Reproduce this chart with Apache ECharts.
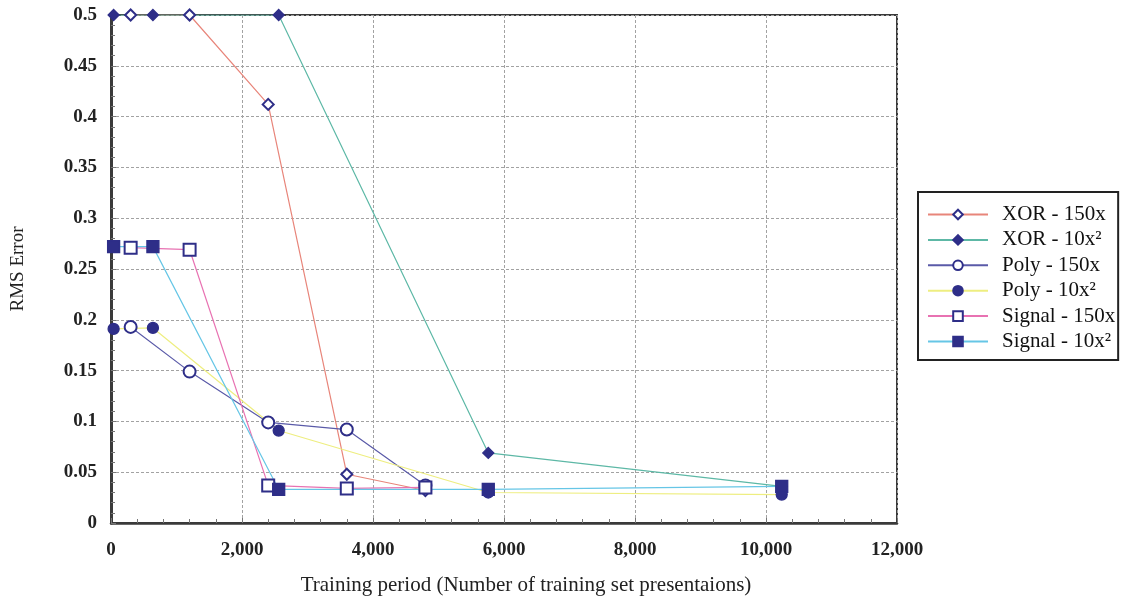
<!DOCTYPE html>
<html>
<head>
<meta charset="utf-8">
<title>RMS Error vs Training period</title>
<script src="https://cdn.jsdelivr.net/npm/echarts@6/dist/echarts.min.js"></script>
<style>
  html, body { margin: 0; padding: 0; background: #ffffff; }
  #chart { width: 1129px; height: 601px; }
</style>
</head>
<body>
<div id="chart"></div>
<script>
// Training presentations: 150 per unit vs 10 per unit squared
const x150 = [300, 1200, 2400, 3600, 4800];
const x10sq = [40, 640, 2560, 5760, 10240];

// RMS error for each problem and schedule
const xor150 = [0.5, 0.5, 0.412, 0.048, 0.032];
const xor10sq = [0.5, 0.5, 0.5, 0.069, 0.036];
const poly150 = [0.193, 0.149, 0.099, 0.092, 0.037];
const poly10sq = [0.191, 0.192, 0.091, 0.030, 0.028];
const signal150 = [0.271, 0.269, 0.037, 0.034, 0.035];
const signal10sq = [0.272, 0.272, 0.033, 0.033, 0.036];

const seriesNames = ['XOR - 150x', 'XOR - 10x\u00b2', 'Poly - 150x', 'Poly - 10x\u00b2', 'Signal - 150x', 'Signal - 10x\u00b2'];

const serif = "'Liberation Serif', 'Times New Roman', serif";
const markerColor = '#2e2e88';

function pairs(xs, ys) {
  return xs.map((x, i) => [x, ys[i]]);
}

function lineSeries(name, xs, ys, lineColor, symbol, size) {
  return {
    name: name,
    type: 'line',
    data: pairs(xs, ys),
    symbol: symbol,
    symbolSize: size,
    showAllSymbol: true,
    lineStyle: { color: lineColor, width: 1.2 },
    itemStyle: { color: markerColor, borderColor: markerColor, borderWidth: 1.3 },
    emphasis: { disabled: true },
    animation: false
  };
}

const chart = echarts.init(document.getElementById('chart'));

chart.setOption({
  backgroundColor: '#ffffff',
  animation: false,
  grid: {
    left: 111, right: 232, top: 15, bottom: 76,
    show: true,
    borderColor: '#3a3a3a',
    borderWidth: 2,
    backgroundColor: 'transparent'
  },
  legend: {
    orient: 'vertical',
    left: 918,
    top: 192,
    padding: [12, 3, 8, 9],
    itemWidth: 60,
    itemHeight: 12,
    itemGap: 4.4,
    borderColor: '#222',
    borderWidth: 2,
    backgroundColor: '#ffffff',
    textStyle: { fontFamily: serif, fontSize: 21, lineHeight: 21, color: '#111', padding: [0, 0, 0, 9] },
    data: seriesNames
  },
  xAxis: {
    type: 'value',
    min: 0,
    max: 12000,
    interval: 2000,
    name: 'Training period (Number of training set presentaions)',
    nameLocation: 'middle',
    nameGap: 52,
    nameTextStyle: { fontFamily: serif, fontSize: 21, color: '#222', padding: [0, 0, 0, 44] },
    axisLine: { show: true, lineStyle: { color: '#3a3a3a', width: 2.5 } },
    axisTick: { show: true, inside: true, length: 5, lineStyle: { color: '#777' } },
    minorTick: { show: true, splitNumber: 5, length: 4, lineStyle: { color: '#777' } },
    axisLabel: {
      fontFamily: serif, fontSize: 19, fontWeight: 'bold', color: '#222', margin: 18,
      formatter: v => v.toLocaleString('en-US')
    },
    splitLine: { show: true, lineStyle: { color: '#a2a2a2', type: [3, 2], width: 1 } }
  },
  yAxis: {
    type: 'value',
    min: 0,
    max: 0.5,
    interval: 0.05,
    name: 'RMS Error',
    nameLocation: 'middle',
    nameGap: 83,
    nameRotate: 90,
    nameTextStyle: { fontFamily: serif, fontSize: 19, color: '#222' },
    axisLine: { show: true, lineStyle: { color: '#3a3a3a', width: 3 } },
    axisTick: { show: true, inside: true, length: 5, lineStyle: { color: '#777' } },
    minorTick: { show: true, splitNumber: 5, length: 4, lineStyle: { color: '#777' } },
    axisLabel: {
      fontFamily: serif, fontSize: 19, fontWeight: 'bold', color: '#222', margin: 14,
      formatter: v => String(+v.toFixed(2))
    },
    splitLine: { show: true, lineStyle: { color: '#a2a2a2', type: [3, 2], width: 1 } }
  },
  series: [
    lineSeries(seriesNames[0], x150, xor150, '#e8857a', 'emptyDiamond', 11),
    lineSeries(seriesNames[1], x10sq, xor10sq, '#5db8a6', 'diamond', 11),
    lineSeries(seriesNames[2], x150, poly150, '#5a5aa8', 'emptyCircle', 12),
    lineSeries(seriesNames[3], x10sq, poly10sq, '#eeee80', 'circle', 11),
    lineSeries(seriesNames[4], x150, signal150, '#e872b2', 'emptyRect', 12),
    lineSeries(seriesNames[5], x10sq, signal10sq, '#66c6e6', 'rect', 12)
  ]
});
</script>
</body>
</html>
